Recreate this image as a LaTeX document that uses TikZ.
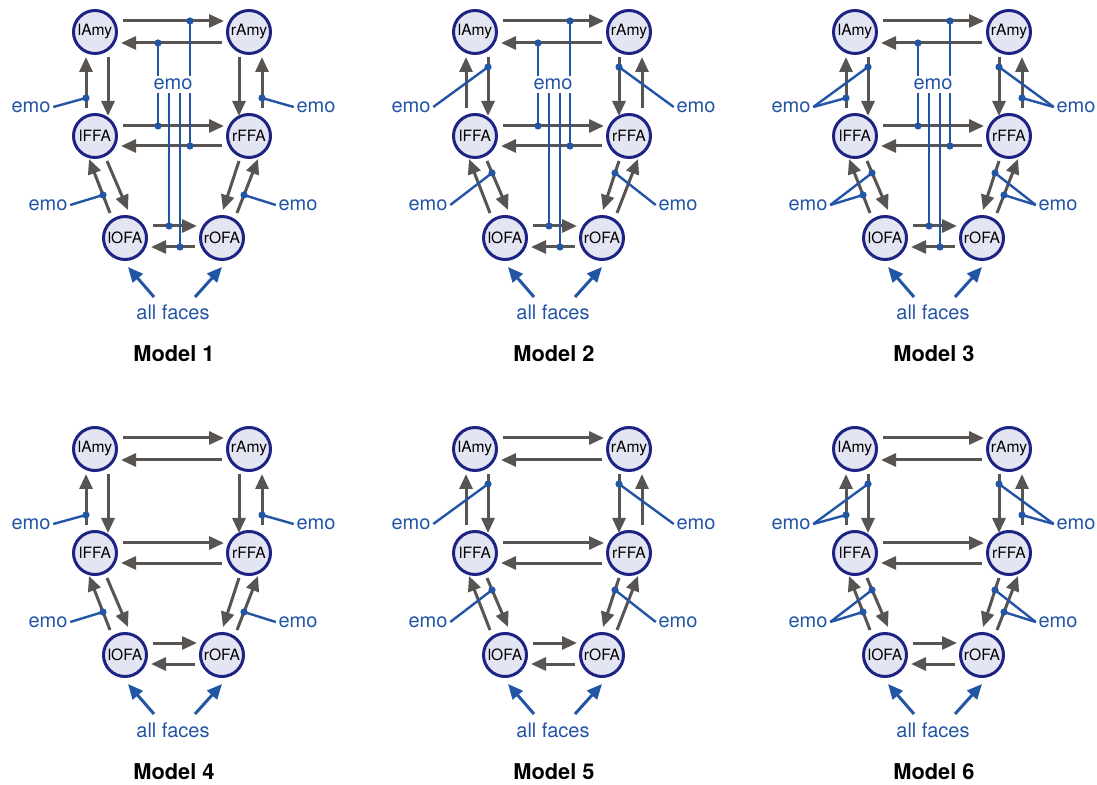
\documentclass[tikz,border=0pt]{standalone}
\usepackage{fontspec}
\setmainfont{TeX Gyre Heros}
\usetikzlibrary{arrows.meta,calc}
\definecolor{garrow}{RGB}{88,84,82}
\definecolor{eblue}{RGB}{35,85,165}
\definecolor{navy}{RGB}{28,35,130}
\definecolor{roifill}{RGB}{228,229,242}
\tikzset{
  roi/.style={circle,draw=navy,line width=1.5pt,fill=roifill,minimum size=21.5pt,inner sep=0pt,font=\fontsize{7.8}{9}\selectfont},
  garr/.style={draw=garrow,line width=1.5pt,-{Triangle[length=7.5pt,width=6.5pt]}},
  barr/.style={draw=eblue,line width=1.5pt,-{Triangle[length=7.5pt,width=6.5pt]}},
  bl/.style={draw=eblue,line width=1.2pt},
  dot/.style={circle,fill=eblue,inner sep=0pt,minimum size=3.6pt},
  emo/.style={text=eblue,font=\fontsize{10}{12}\selectfont,inner sep=1.2pt,text height=1ex,text depth=0pt},
  faces/.style={text=eblue,font=\fontsize{10}{12}\selectfont,inner sep=0pt,anchor=base},
  mlabel/.style={font=\bfseries\fontsize{10.9}{12}\selectfont,inner sep=0pt,anchor=base}
}
\newcommand\drawmodel[5]{%
 \node[roi] (lAmy#1) at ({#2+95},{#3+32}) {lAmy};
 \node[roi] (rAmy#1) at ({#2+249},{#3+32}) {rAmy};
 \node[roi] (lFFA#1) at ({#2+95},{#3+136}) {lFFA};
 \node[roi] (rFFA#1) at ({#2+249},{#3+136}) {rFFA};
 \node[roi] (lOFA#1) at ({#2+125},{#3+238}) {lOFA};
 \node[roi] (rOFA#1) at ({#2+222},{#3+238}) {rOFA};
 \draw[garr] ($(lAmy#1)+(28,-11)$) -- ($(rAmy#1)+(-25,-11)$);
 \draw[garr] ($(rAmy#1)+(-27,11)$) -- ($(lAmy#1)+(26,11)$);
 \draw[garr] ($(lFFA#1)+(28,-10)$) -- ($(rFFA#1)+(-25,-10)$);
 \draw[garr] ($(rFFA#1)+(-27,10)$) -- ($(lFFA#1)+(26,10)$);
 \draw[garr] ($(lOFA#1)+(28,-12)$) -- ($(rOFA#1)+(-25,-12)$);
 \draw[garr] ($(rOFA#1)+(-27,9)$) -- ($(lOFA#1)+(26,9)$);
 \draw[garr] ($(lFFA#1)+(-9,-28)$) -- ($(lAmy#1)+(-9,25)$);
 \draw[garr] ($(lAmy#1)+(13,25)$) -- ($(lFFA#1)+(13,-20)$);
 \draw[garr] ($(rAmy#1)+(-10,25)$) -- ($(rFFA#1)+(-10,-20)$);
 \draw[garr] ($(rFFA#1)+(13,-28)$) -- ($(rAmy#1)+(13,25)$);
 \draw[garr] ($(lFFA#1)+(12,25)$) -- ($(lOFA#1)+(3,-28)$);
 \draw[garr] ($(lOFA#1)+(-15,-25)$) -- ($(lFFA#1)+(-6,23)$);
 \draw[garr] ($(rFFA#1)+(-10,25)$) -- ($(rOFA#1)+(1,-28)$);
 \draw[garr] ($(rOFA#1)+(15,-25)$) -- ($(rFFA#1)+(9,23)$);
 \node[emo] (eLU#1) at ({#2+31},{#3+107}) {emo};
 \node[emo] (eRU#1) at ({#2+316},{#3+107}) {emo};
 \node[emo] (eLL#1) at ({#2+48},{#3+205}) {emo};
 \node[emo] (eRL#1) at ({#2+298},{#3+205}) {emo};
 \ifodd#4\relax
  \draw[bl] (eLU#1.east) -- ($(lFFA#1)+(-9,-38)$) node[dot]{};
  \draw[bl] (eRU#1.west) -- ($(rFFA#1)+(13,-38)$) node[dot]{};
  \draw[bl] (eLL#1.east) -- ($(lOFA#1)+(-22,-43)$) node[dot]{};
  \draw[bl] (eRL#1.west) -- ($(rOFA#1)+(22,-43)$) node[dot]{};
 \fi
 \ifnum#4>1\relax
  \draw[bl] (eLU#1.east) -- ($(lAmy#1)+(13,35)$) node[dot]{};
  \draw[bl] (eRU#1.west) -- ($(rAmy#1)+(-10,35)$) node[dot]{};
  \draw[bl] (eLL#1.east) -- ($(lFFA#1)+(17,37)$) node[dot]{};
  \draw[bl] (eRL#1.west) -- ($(rFFA#1)+(-14,37)$) node[dot]{};
 \fi
 \ifnum#5=1\relax
  \node[emo] (eC#1) at ({#2+173},{#3+84}) {emo};
  \draw[bl] ($(eC#1)+(-15,-8)$) -- ($(lAmy#1)+(63,11)$) node[dot]{};
  \draw[bl] ($(eC#1)+(17,-8)$) -- ($(lAmy#1)+(95,-11)$) node[dot]{};
  \draw[bl] ($(eC#1)+(-15,9)$) -- ($(lFFA#1)+(63,-10)$) node[dot]{};
  \draw[bl] ($(eC#1)+(17,9)$) -- ($(lFFA#1)+(95,10)$) node[dot]{};
  \draw[bl] ($(eC#1)+(-4,9)$) -- ($(lOFA#1)+(44,-12)$) node[dot]{};
  \draw[bl] ($(eC#1)+(7,9)$) -- ($(lOFA#1)+(55,9)$) node[dot]{};
 \fi
 \node[faces] (allf#1) at ({#2+173},{#3+320}) {all faces};
 \draw[barr] ($(lOFA#1)+(29,59)$) -- ($(lOFA#1)+(3,29)$);
 \draw[barr] ($(rOFA#1)+(-27,59)$) -- ($(rOFA#1)+(0,29)$);
 \node[mlabel] (lab#1) at ({#2+174},{#3+362}) {Model #1};
}
\begin{document}
\begin{tikzpicture}[x=0.5pt,y=-0.5pt]
\useasboundingbox (0,0) rectangle (1097,785);
\drawmodel{1}{0}{0}{1}{1}
\drawmodel{2}{380}{0}{2}{1}
\drawmodel{3}{760}{0}{3}{1}
\drawmodel{4}{0}{417}{1}{0}
\drawmodel{5}{380}{417}{2}{0}
\drawmodel{6}{760}{417}{3}{0}
\end{tikzpicture}
\end{document}
